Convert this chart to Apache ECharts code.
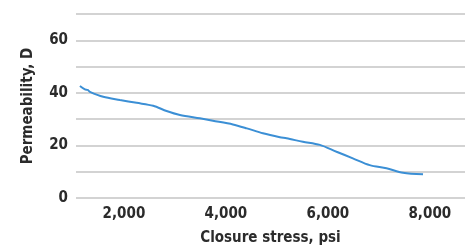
<!DOCTYPE html>
<html>
<head>
<meta charset="utf-8">
<script src="https://cdn.jsdelivr.net/npm/echarts@6/dist/echarts.min.js"></script>
<style>
    html, body { margin: 0; padding: 0; background: #fff; }
    #main { width: 471px; height: 248px; }
</style>
</head>
<body>
<div id="main"></div>
<script>
    // closure stress (psi) / permeability (D)
    var stress = [1137, 1235, 1290, 1333, 1594, 1922, 2249, 2574, 2837, 3098, 3490, 3745, 4137, 4412, 4726, 5059, 5190, 5510, 5843, 6170, 6490, 6822, 7150, 7475, 7867];
    var permeability = [42.6, 41.3, 41.1, 40.4, 38.5, 37.3, 36.2, 35.1, 33.1, 31.6, 30.3, 29.4, 28.0, 26.5, 24.6, 23.1, 22.7, 21.4, 20.2, 17.6, 15.1, 12.5, 11.3, 9.6, 9.0];
    var xTicks = [2000, 4000, 6000, 8000];
    var yTicks = [0, 20, 40, 60];

    var font = "'DejaVu Sans Condensed', 'Liberation Sans Narrow', sans-serif";

    var points = [];
    for (var i = 0; i < stress.length; i++) {
        points.push([stress[i], permeability[i]]);
    }

    var myChart = echarts.init(document.getElementById('main'));
    var option = {
        animation: false,
        grid: { left: 76, right: 6, top: 14, bottom: 50, outerBoundsMode: 'none', containLabel: false },
        xAxis: {
            type: 'value',
            min: 1060,
            max: 8690,
            name: 'Closure stress, psi',
            nameLocation: 'middle',
            nameGap: 33,
            nameTextStyle: { fontFamily: font, fontWeight: 'bold', fontSize: 15, color: '#2b2b2b' },
            axisLine: { show: false },
            axisTick: { show: false },
            splitLine: { show: false },
            axisLabel: {
                customValues: xTicks,
                margin: 9,
                fontFamily: font, fontWeight: 'bold', fontSize: 15, color: '#2b2b2b',
                formatter: function (v) {
                    return v.toString().replace(/\B(?=(\d{3})+(?!\d))/g, ',');
                }
            }
        },
        yAxis: {
            type: 'value',
            min: 0,
            max: 70,
            interval: 10,
            name: 'Permeability, D',
            nameLocation: 'middle',
            nameGap: 40,
            nameTextStyle: { fontFamily: font, fontWeight: 'bold', fontSize: 15, color: '#2b2b2b' },
            axisLine: { show: false },
            axisTick: { show: false },
            splitLine: { lineStyle: { color: '#c4c4c4', width: 1.5 } },
            axisLabel: {
                margin: 8,
                fontFamily: font, fontWeight: 'bold', fontSize: 15, color: '#2b2b2b',
                formatter: function (v) {
                    return yTicks.indexOf(v) >= 0 ? String(v) : '';
                }
            }
        },
        series: [
            {
                type: 'line',
                data: points,
                smooth: 0.3,
                showSymbol: false,
                lineStyle: { color: '#3b8fd5', width: 2 }
            }
        ]
    };
    myChart.setOption(option);
</script>
</body>
</html>
